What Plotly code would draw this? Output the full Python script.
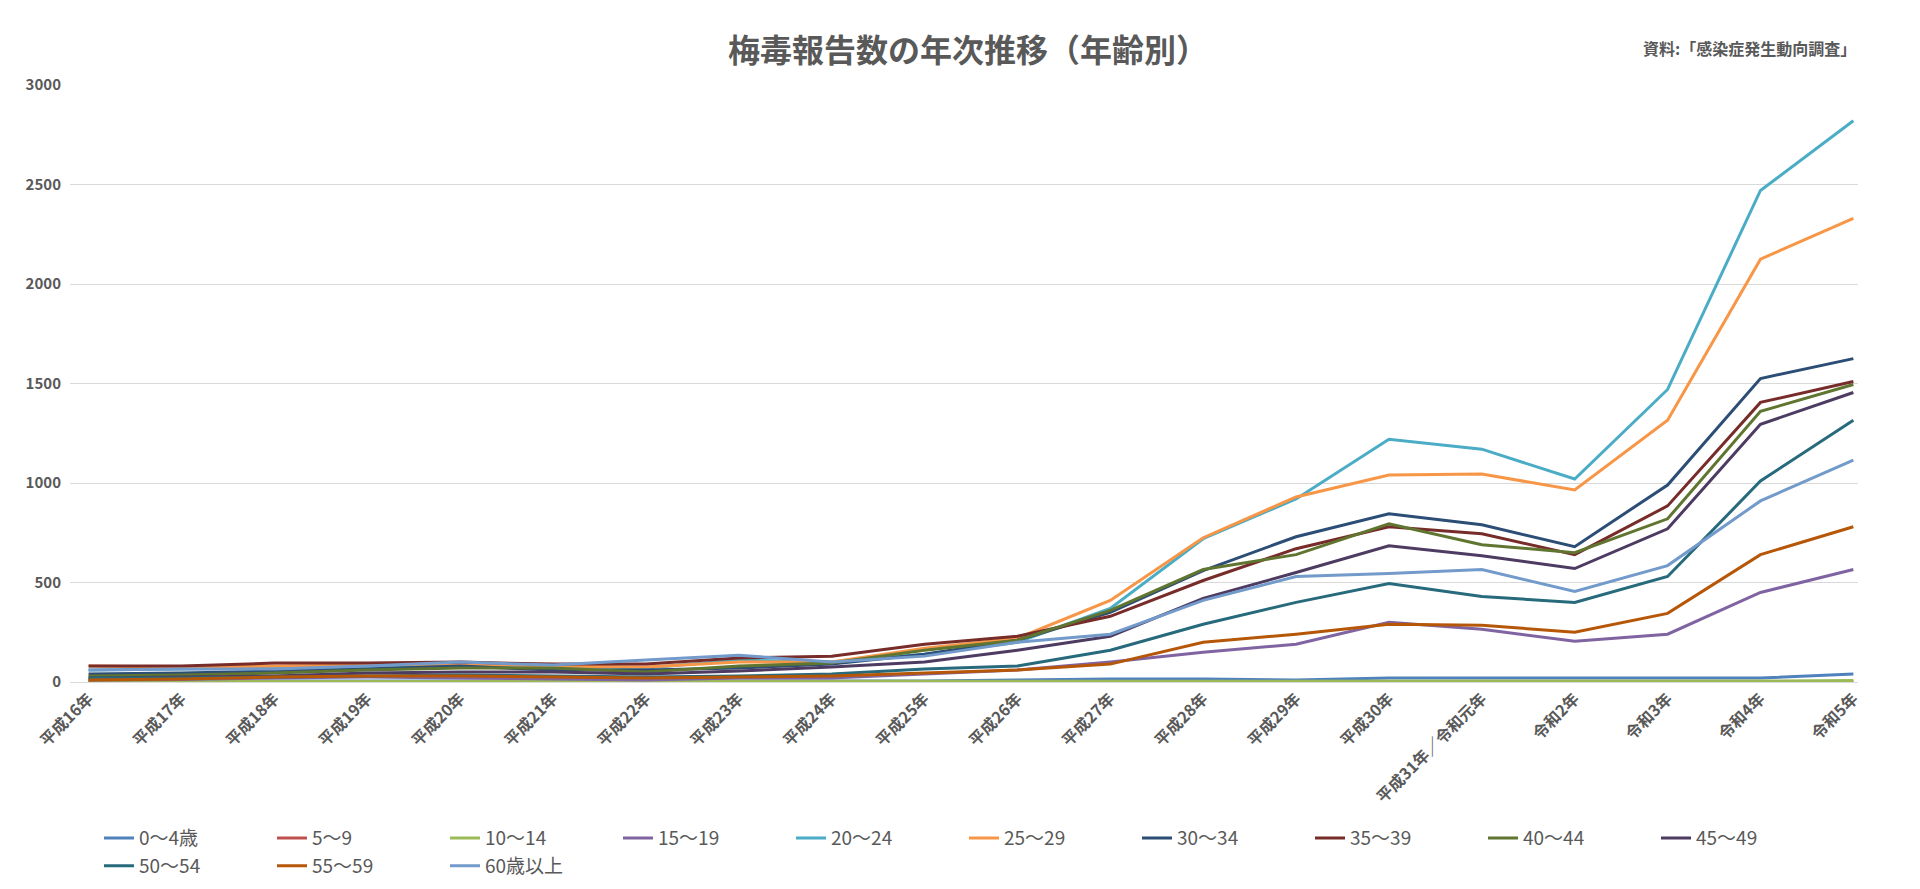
import plotly.graph_objects as go

years = ["平成16年","平成17年","平成18年","平成19年","平成20年","平成21年","平成22年","平成23年","平成24年","平成25年",
         "平成26年","平成27年","平成28年","平成29年","平成30年","平成31年／令和元年","令和2年","令和3年","令和4年","令和5年"]
names = ["0～4歳","5～9","10～14","15～19","20～24","25～29","30～34","35～39","40～44","45～49","50～54","55～59","60歳以上"]
colors = ["#4F81BD","#C0504D","#9BBB59","#8064A2","#4BACC6","#F79646","#2C4D75","#772C2A","#5F7530","#4D3B62","#276A7C","#B65708","#729ACA"]

a0_4 = [5,5,5,5,5,5,5,5,5,5,10,15,15,10,20,20,20,20,20,40]
a5_9 = [0,0,0,0,0,0,0,0,0,0,1,1,1,1,1,1,1,1,1,3]
a10_14 = [2,2,2,2,2,2,2,2,2,2,3,3,5,5,5,5,5,5,5,8]
a15_19 = [10,12,20,25,20,15,10,20,20,40,60,100,150,190,300,265,205,240,450,565]
a20_24 = [60,65,70,75,85,80,70,110,100,140,200,370,720,920,1220,1170,1020,1470,2470,2820]
a25_29 = [80,75,80,85,90,80,75,100,100,170,220,410,725,930,1040,1045,965,1315,2125,2330]
a30_34 = [40,45,55,65,80,60,60,70,90,140,210,350,560,730,845,790,680,990,1525,1625]
a35_39 = [80,80,95,95,100,90,90,120,130,190,230,330,510,670,780,745,640,885,1405,1510]
a40_44 = [30,35,45,60,70,70,50,80,95,160,210,360,565,640,795,690,650,820,1360,1495]
a45_49 = [20,25,30,45,50,50,40,55,75,100,160,230,420,550,685,635,570,770,1295,1455]
a50_54 = [20,20,25,30,35,30,25,30,40,65,80,160,290,400,495,430,400,530,1010,1315]
a55_59 = [10,15,25,30,30,25,20,25,30,45,60,90,200,240,290,285,250,345,640,780]
a60p = [60,65,65,80,100,85,110,135,100,130,200,240,410,530,545,565,455,585,910,1115]
series = [a0_4,a5_9,a10_14,a15_19,a20_24,a25_29,a30_34,a35_39,a40_44,a45_49,a50_54,a55_59,a60p]

fig = go.Figure()
for n, c, v in zip(names, colors, series):
    fig.add_trace(go.Scatter(x=years, y=v, name=n, mode="lines", line=dict(color=c, width=3)))

font = "Noto Sans CJK JP"
fig.update_layout(
    width=1920, height=889, paper_bgcolor="white", plot_bgcolor="white",
    margin=dict(l=62, r=70, t=77, b=196),
    font=dict(family=font, color="#595959", size=14),
    title=dict(text="<b>梅毒報告数の年次推移（年齢別）</b>", x=0.5, y=0.965, xanchor="center",
               font=dict(size=32, color="#595959", family=font)),
    showlegend=True,
    legend=dict(orientation="h", x=0.5, xanchor="center", y=-0.285, yanchor="middle",
                font=dict(size=19, color="#595959"), entrywidth=128, entrywidthmode="pixels",
                tracegroupgap=0),
    xaxis=dict(tickangle=-45, tickfont=dict(size=16, weight="bold"), showgrid=False, range=[-0.2, 19.05],
               showline=True, linecolor="#D9D9D9", ticks=""),
    yaxis=dict(range=[0, 3000], dtick=500, gridcolor="#D9D9D9", tickfont=dict(size=15, weight="bold"),
               zeroline=False, ticklabelstandoff=8),
)
fig.add_annotation(text="<b>資料:「感染症発生動向調査」</b>", xref="paper", yref="paper", x=1.0, y=1.085,
                   xanchor="right", showarrow=False, font=dict(size=16, color="#595959", family=font))
fig.write_html("out.html")
